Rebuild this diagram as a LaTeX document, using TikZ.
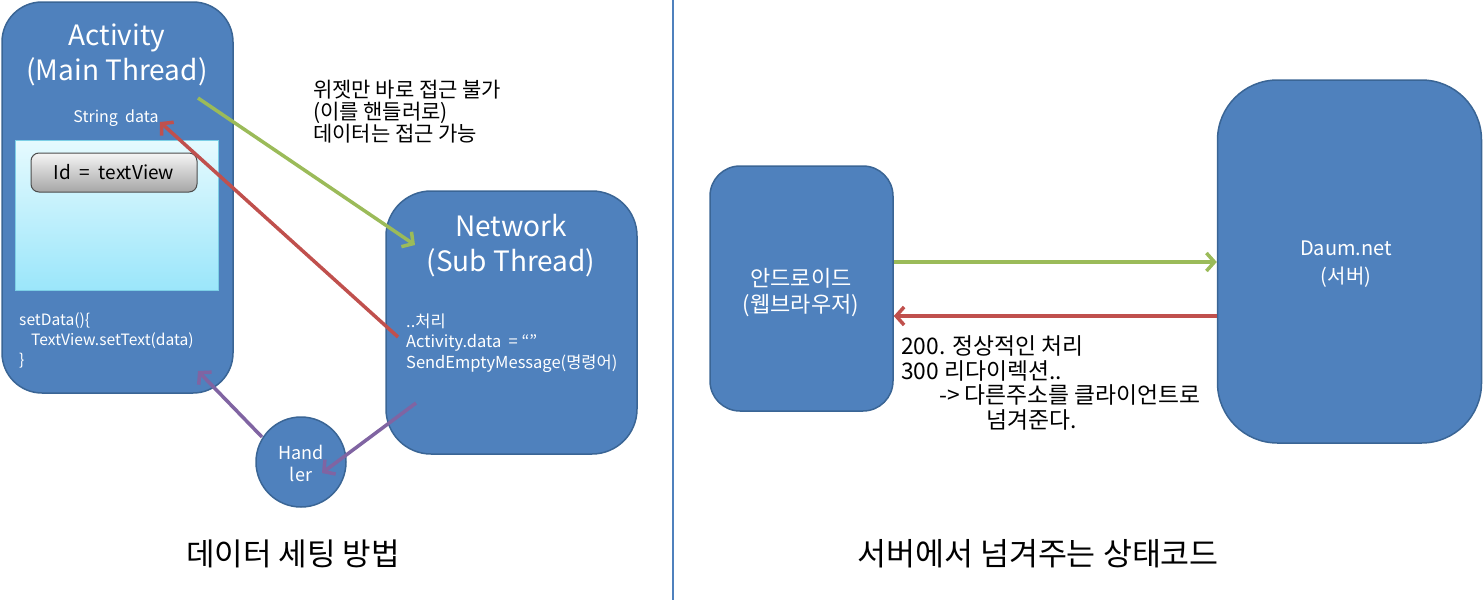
\documentclass[tikz,border=0pt]{standalone}
\usepackage{fontspec}
\setmainfont{Noto Sans CJK KR}
\usetikzlibrary{arrows.meta}
\definecolor{boxfill}{HTML}{4F81BD}
\definecolor{boxline}{HTML}{3A6595}
\definecolor{agreen}{HTML}{9BBB59}
\definecolor{ared}{HTML}{C0504D}
\definecolor{apurple}{HTML}{8064A2}
\definecolor{divline}{HTML}{4F81BD}
\definecolor{scrtop}{HTML}{E6FAFE}
\definecolor{scrbot}{HTML}{9BE6FA}
\definecolor{scrline}{HTML}{7CCFE6}
\newcommand{\fs}[2]{\fontsize{#1}{#2}\selectfont}
\begin{document}
\begin{tikzpicture}[x=1pt,y=-1pt,
  bluebox/.style={draw=boxline, fill=boxfill, line width=1.5pt, inner sep=0pt, rounded corners=#1},
  wtext/.style={text=white, inner sep=0pt},
  btext/.style={text=black, inner sep=0pt},
  conn/.style={line width=3.5pt, -{Straight Barb[length=8pt,width=18pt]}},
]
\useasboundingbox (0,0) rectangle (1483,600);
% Left panel
\node[bluebox=40pt, minimum width=231pt, minimum height=391pt] (act) at (117.5,197.5) {};
\node[wtext, align=center, font=\fs{28}{35}] (acttitle) at (117,55) {Activity\\(Main Thread)};
\node[wtext, font=\fs{16}{20}] (strdata) at (116,118) {String\ \ data};
\node[draw=scrline, line width=1pt, top color=scrtop, bottom color=scrbot, minimum width=203pt, minimum height=150pt, inner sep=0pt] (screen) at (116.5,215) {};
\node[draw=black!70, line width=1pt, top color=black!4, bottom color=black!35, rounded corners=8pt, minimum width=166pt, minimum height=39pt, inner sep=0pt, font=\fs{19}{22}] (btn) at (114,172.5) {Id \ = \ textView};
\node[wtext, align=left, anchor=west, font=\fs{15.6}{20}] (setdata) at (19,340) {setData()\{\\\hspace*{12pt}TextView.setText(data)\\\}};
\node[bluebox=45pt, minimum width=251pt, minimum height=263pt] (net) at (511.5,322.5) {};
\node[wtext, align=center, font=\fs{28}{35}] (nettitle) at (511,246) {Network\\(Sub Thread)};
\node[wtext, align=left, anchor=west, font=\fs{16.5}{20.5}] (netcode) at (406,343) {..처리\\Activity.data \ = “”\\SendEmptyMessage(명령어)};
\node[bluebox=0pt, circle, minimum size=90pt] (handler) at (301,462) {};
\node[wtext, align=center, font=\fs{18}{22}] (handtext) at (301,463) {Hand\\ler};
\node[btext, align=left, anchor=west, font=\fs{21}{22}] (note) at (313,112) {위젯만 바로 접근 불가\\(이를 핸들러로)\\데이터는 접근 가능};
\coordinate (g1) at (198,98);
\coordinate (g2) at (415,245);
\coordinate (r1) at (398,337);
\coordinate (r2) at (160,122);
\coordinate (p1) at (416,403);
\coordinate (p2) at (322,473);
\coordinate (p3) at (262,437);
\coordinate (p4) at (198,371);
\draw[conn, agreen] (g1) -- (g2);
\draw[conn, ared] (r1) -- (r2);
\draw[conn, apurple] (p1) -- (p2);
\draw[conn, apurple] (p3) -- (p4);
\node[btext, font=\fs{31}{36}] (cap1) at (293,554) {데이터 세팅 방법};
% divider
\coordinate (d1) at (673,0);
\coordinate (d2) at (673,600);
\draw[divline, line width=1.2pt] (d1) -- (d2);
% Right panel
\node[bluebox=30pt, minimum width=183pt, minimum height=245pt] (android) at (801.5,288.5) {};
\node[wtext, align=center, font=\fs{22}{26}] (andtext) at (801,293) {안드로이드\\(웹브라우저)};
\node[bluebox=60pt, minimum width=264pt, minimum height=363pt] (daum) at (1349.5,261.5) {};
\node[wtext, align=center, font=\fs{20}{28}] (daumtext) at (1346,264) {Daum.net\\(서버)};
\draw[conn, agreen] (android.east |- 0,262) -- (daum.west |- 0,262);
\draw[conn, ared] (daum.west |- 0,316) -- (android.east |- 0,316);
\node[btext, align=left, anchor=west, font=\fs{22.8}{24.7}] (status) at (901,383) {200. 정상적인 처리\\300 리다이렉션..\\\hspace*{38pt}-> 다른주소를 클라이언트로\\\hspace*{85pt}넘겨준다.};
\node[btext, font=\fs{31.5}{36}] (cap2) at (1038,554) {서버에서 넘겨주는 상태코드};
\end{tikzpicture}
\end{document}
